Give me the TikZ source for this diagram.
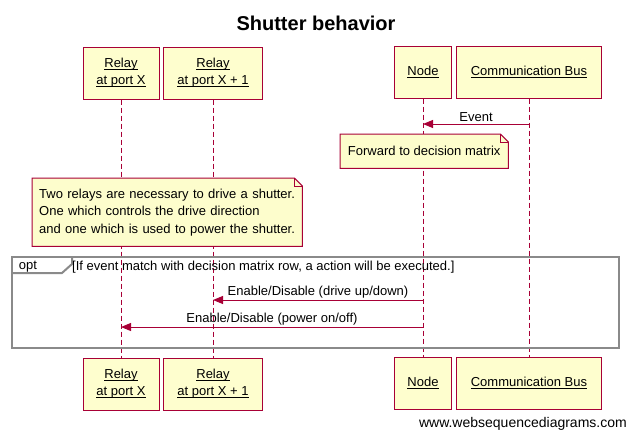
\documentclass[tikz,border=0pt]{standalone}
\usepackage{fontspec}
\setmainfont{Liberation Sans}
\usetikzlibrary{positioning,calc,arrows.meta,backgrounds}

\definecolor{wsdred}{HTML}{A80036}
\definecolor{wsdfill}{HTML}{FEFECE}
\definecolor{wsdnote}{HTML}{FDFDCC}
\definecolor{wsdgray}{HTML}{8A8A8A}

% underline close to the baseline
\newcommand{\ulname}[1]{\setbox0\hbox{#1}\rlap{\rule[-1.6pt]{\wd0}{0.9pt}}\box0}

\newcommand{\notepath}[1]{%
	\filldraw[draw=wsdred,fill=wsdnote,line width=1pt] (#1.south west) -- (#1.north west) -- ($(#1.north east)+(-8,0)$) -- ($(#1.north east)+(0,8)$) -- (#1.south east) -- cycle;
	\draw[draw=wsdred,line width=1pt] ($(#1.north east)+(-8,0)$) |- ($(#1.north east)+(0,8)$);
}

\begin{document}
\begin{tikzpicture}[
		x=1pt,y=-1pt,
		txt/.style={font=\fontsize{13}{17}\selectfont},
		part/.style={txt,draw=wsdred,fill=wsdfill,line width=1pt,minimum height=52pt,align=center,inner sep=0pt},
		life/.style={draw=wsdred,line width=1pt,dash pattern=on 5pt off 3pt},
		msg/.style={draw=wsdred,line width=1pt,-{Triangle[length=10pt,width=8pt]}},
		lbl/.style={txt,inner sep=1.5pt},
		notetext/.style={font=\fontsize{13}{17.5}\selectfont,align=left,inner xsep=7pt,inner ysep=0pt,anchor=north west}
	]
		\useasboundingbox (0,0) rectangle (628,431);

		\node[font=\bfseries\fontsize{20}{24}\selectfont] (title) at (316,23) {Shutter behavior};

		% participants, top and bottom
		\node[part,minimum width=76pt] (relXt) at (121,73) {\ulname{Relay}\\\ulname{at port X}};
		\node[part,minimum width=99pt] (relYt) at (213,73) {\ulname{Relay}\\\ulname{at port X + 1}};
		\node[part,minimum width=57pt] (nodet) at (423,72) {\ulname{Node}};
		\node[part,minimum width=145pt] (bust) at (529,72) {\ulname{Communication Bus}};
		\node[part,minimum width=76pt] (relXb) at (121,384) {\ulname{Relay}\\\ulname{at port X}};
		\node[part,minimum width=99pt] (relYb) at (213,384) {\ulname{Relay}\\\ulname{at port X + 1}};
		\node[part,minimum width=57pt] (nodeb) at (423,383) {\ulname{Node}};
		\node[part,minimum width=145pt] (busb) at (529,383) {\ulname{Communication Bus}};

		% opt frame
		\node[draw=wsdgray,line width=2pt,minimum width=607pt,minimum height=91pt,inner sep=0pt,anchor=north west] (opt) at (11,256) {};
		\draw[wsdgray,line width=2pt] ($(opt.north west)+(0,17)$) -- ($(opt.north west)+(51,17)$) -- ($(opt.north west)+(61,8)$) -- ($(opt.north west)+(61,0)$);
		\node[txt] (optlbl) at (28,267) {opt};
		\node[txt,anchor=west,inner sep=0pt] (cond) at (72,267) {[If event match with decision matrix row, a action will be executed.]};

		% notes
		\node[notetext,minimum width=168pt,minimum height=34pt] (fwd) at (340,134) {Forward to decision matrix};
		\node[notetext,text width=256pt,minimum height=68pt] (two) at (32,178) {Two relays are necessary to drive a shutter.\\One which controls the drive direction\\and one which is used to power the shutter.};

		\begin{scope}[on background layer]
			\draw[life] (relXt) -- (relXb);
			\draw[life] (relYt) -- (relYb);
			\draw[life] (nodet) -- (nodeb);
			\draw[life] (bust) -- (busb);
			\notepath{fwd}
			\notepath{two}
		\end{scope}

		% messages
		\coordinate (ev1) at (bust |- 0,124);
		\coordinate (ev2) at (nodet |- 0,124);
		\coordinate (up1) at (nodet |- 0,300);
		\coordinate (up2) at (relYt |- 0,300);
		\coordinate (pw1) at (nodet |- 0,327);
		\coordinate (pw2) at (relXt |- 0,327);
		\draw[msg] (ev1) -- node[lbl,above] {Event} (ev2);
		\draw[msg] (up1) -- node[lbl,above] {Enable/Disable (drive up/down)} (up2);
		\draw[msg] (pw1) -- node[lbl,above] {Enable/Disable (power on/off)} (pw2);

		\node[font=\fontsize{14}{16}\selectfont,anchor=east,inner sep=0pt] (wsd) at (627,424) {www.websequencediagrams.com};
	\end{tikzpicture}
\end{document}
